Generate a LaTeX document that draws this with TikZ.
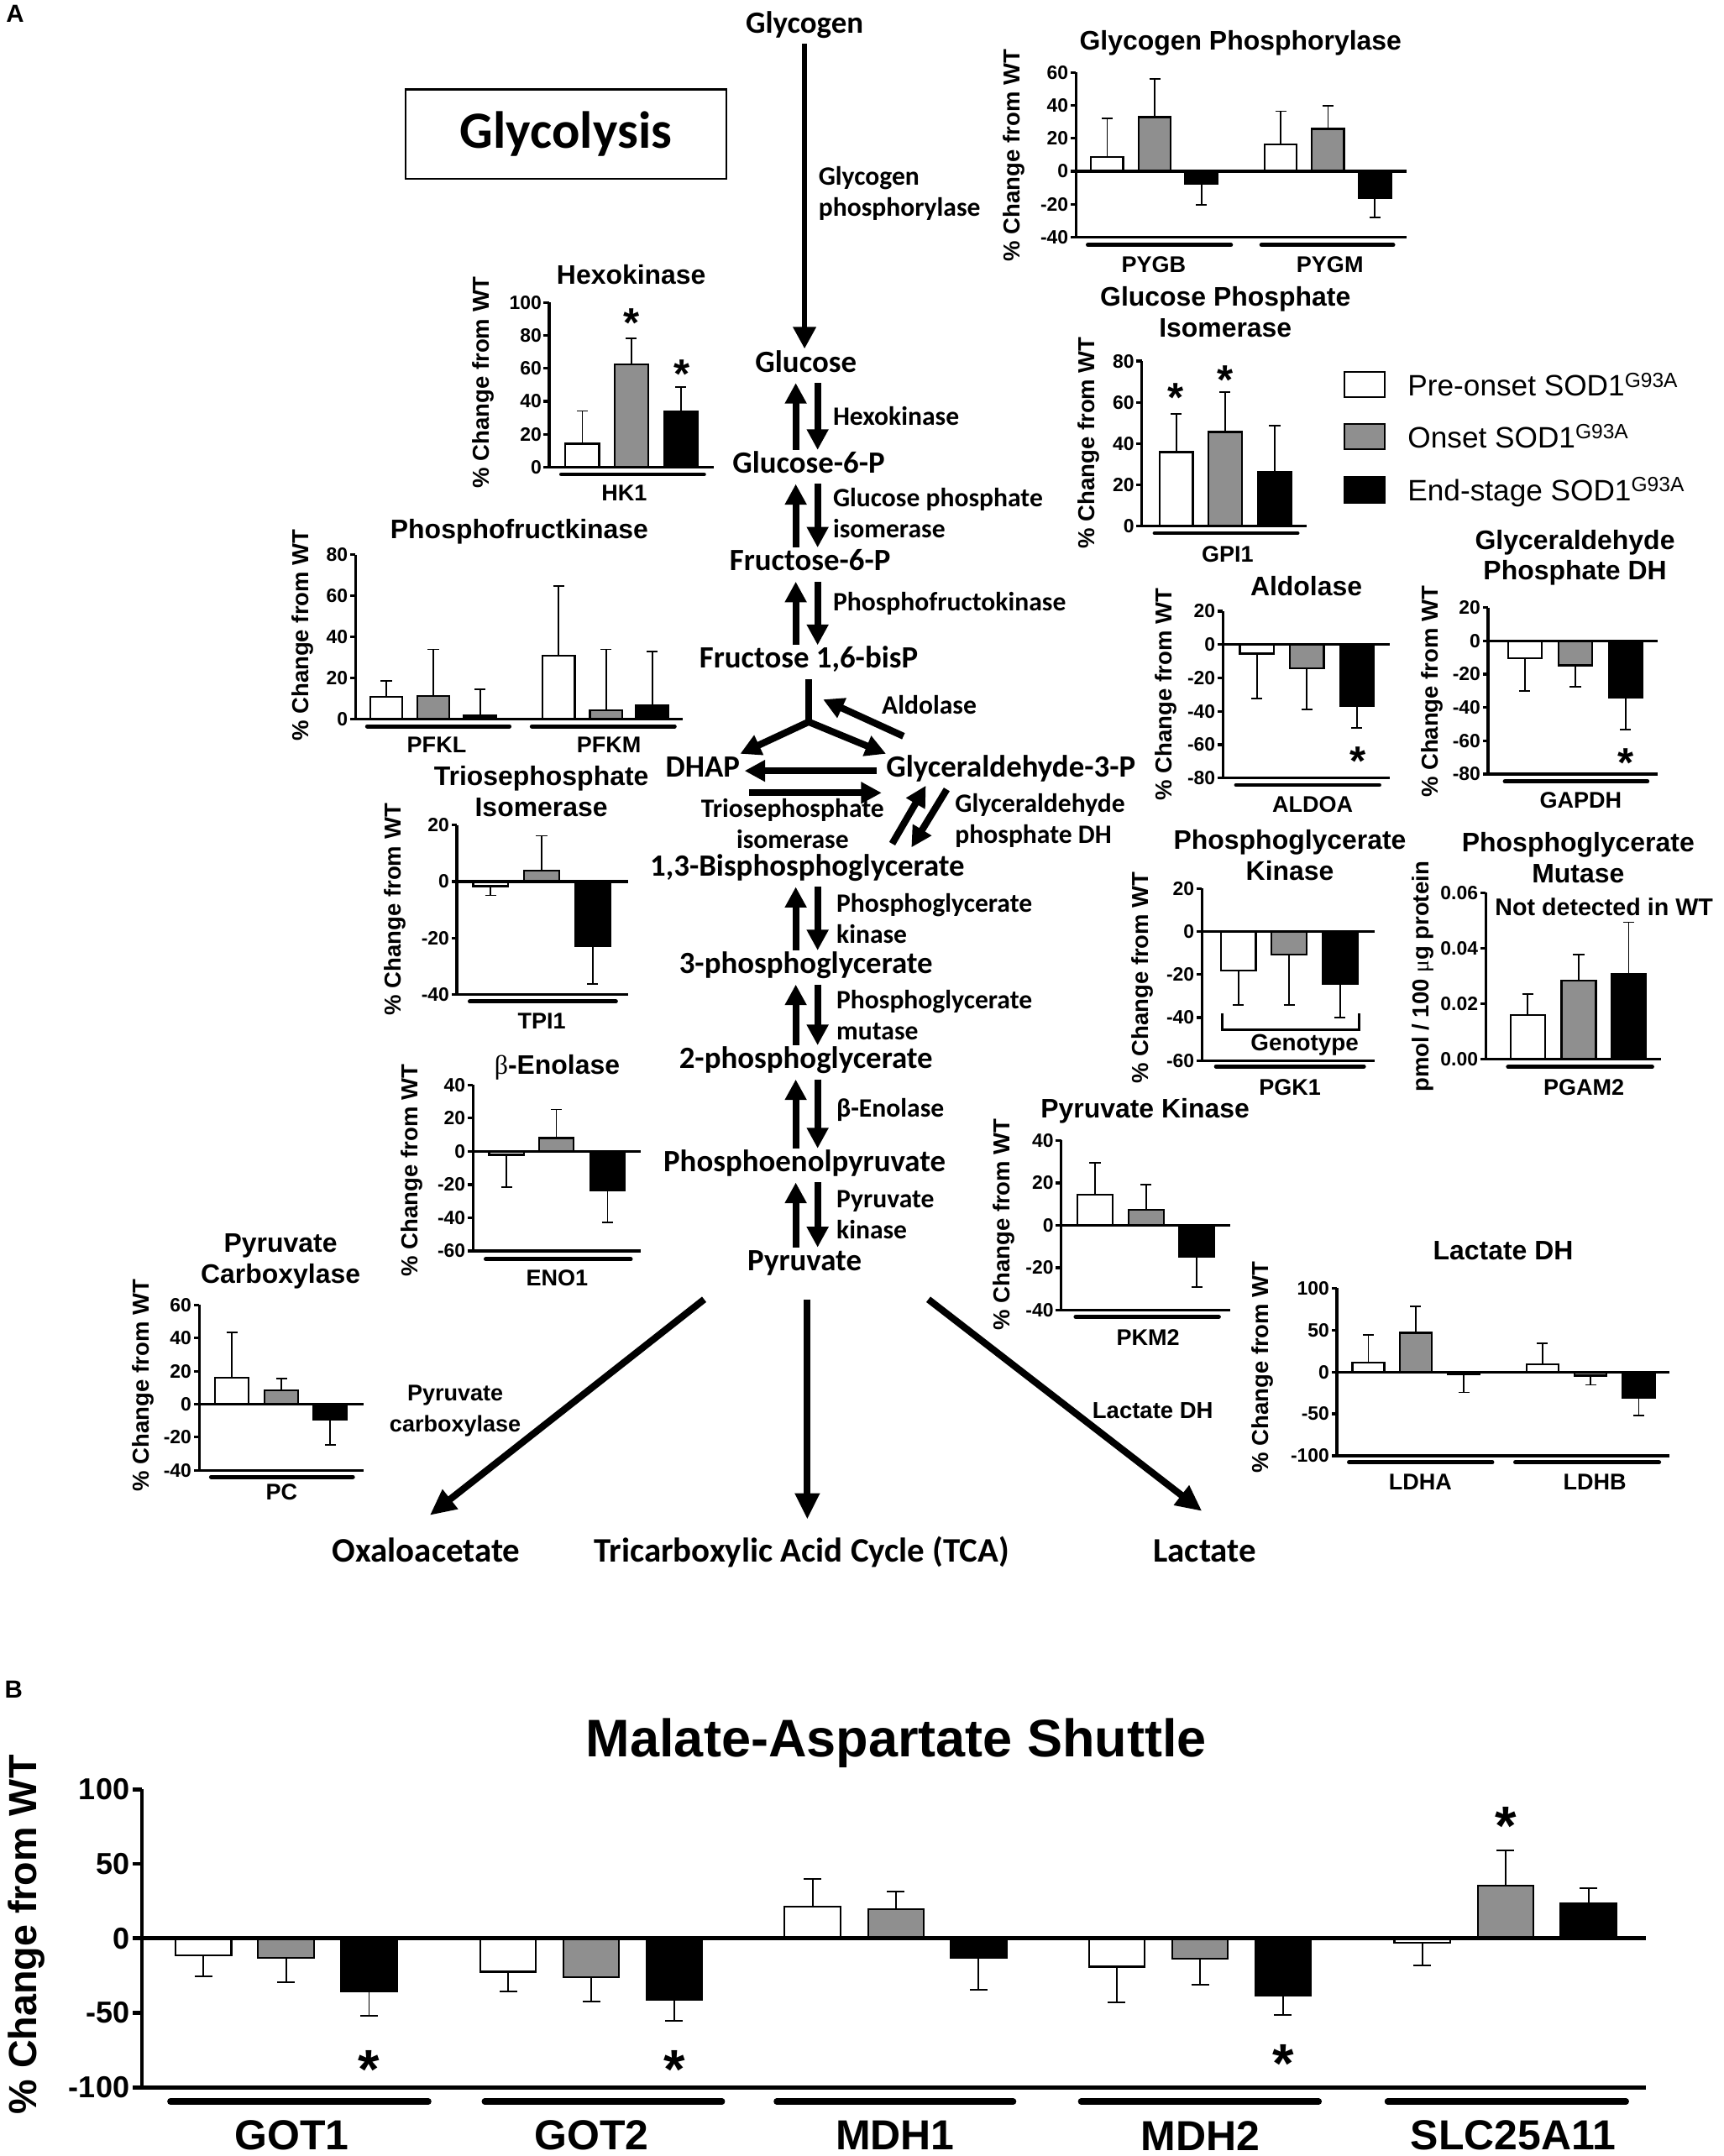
\documentclass[tikz,border=0pt]{standalone}
\usepackage{fontspec}
\setmainfont{Liberation Sans}
\newfontfamily\calfont{Carlito}
\newfontfamily\serfont{Liberation Serif}
\usetikzlibrary{arrows.meta}

\definecolor{bargray}{RGB}{143,143,143}

\newcommand{\barw}{24}
\newcommand{\capw}{4}
\newcommand{\ticklen}{4}
% one bar: left edge, fill, mean, end of error bar
\newcommand{\gbar}[4]{%
  \draw[errline] (#1+\barw/2,#3) -- (#1+\barw/2,#4) +(-\capw,0) -- +(\capw,0);
  \filldraw[barline,fill=#2] (#1,0) rectangle (#1+\barw,#3);
}
% axes: lowest, highest, ticks, end of baseline, prefix for names
\newcommand{\yaxis}[5]{%
  \foreach \tv in {#3}
    \draw[axisline] (0,\tv) -- (-\ticklen,\tv) node[ticklab] (#5\tv) {\tv};
  \draw[axisline] (0,#2) -- (0,#1) -- (#4,#1);
  \draw[axisline] (0,0) -- (#4,0);
}
\newcommand{\sups}[1]{\raisebox{6.5pt}{\fontsize{15}{15}\selectfont #1}}

\begin{document}
\begin{tikzpicture}[x=1pt, y=-1pt,
    axisline/.style={line width=2pt},
    barline/.style={line width=1.4pt},
    errline/.style={line width=1.1pt},
    grpline/.style={line width=3pt, line cap=round},
    ticklab/.style={anchor=east, inner sep=0.6pt, font=\bfseries\fontsize{14}{14}\selectfont},
    ctitle/.style={align=center, inner sep=0pt, font=\bfseries\fontsize{19.5}{22.5}\selectfont},
    ylab/.style={rotate=90, inner sep=0pt, font=\bfseries\fontsize{16.8}{17}\selectfont},
    gene/.style={inner sep=0pt, font=\bfseries\fontsize{16.5}{16.5}\selectfont},
    star/.style={anchor=north, inner sep=0pt, font=\bfseries\fontsize{30}{30}\selectfont},
    legtext/.style={anchor=base west, inner sep=0pt, font=\fontsize{21.5}{21.5}\selectfont},
    met/.style={anchor=base, inner sep=0pt, text height=16.6pt, text depth=7.8pt,
      font=\calfont\bfseries\fontsize{22.5}{24}\selectfont},
    endmet/.style={met, font=\calfont\bfseries\fontsize{25}{26}\selectfont},
    enz/.style={anchor=west, align=left, inner sep=0pt,
      font=\calfont\bfseries\fontsize{19.3}{22.6}\selectfont},
    rxn/.style={line width=5pt, -{Triangle[length=15pt,width=15pt]}},
    rxnboth/.style={line width=5pt, {Triangle[length=15pt,width=15pt]}-{Triangle[length=15pt,width=15pt]}},
    big/.style={line width=5pt, -{Triangle[length=19pt,width=17pt]}},
    panel/.style={inner sep=0pt, font=\bfseries\fontsize{18}{18}\selectfont},
  ]
\fill[white] (0,0) rectangle (1253,1568);
\useasboundingbox (0,0) rectangle (1253,1568);

\node[panel] (pana) at (11,10) {A};
\node[panel] (panb) at (10,1229) {B};
\node[draw, line width=1.5pt, minimum width=233pt, minimum height=65pt,
  font=\calfont\bfseries\fontsize{38}{38}\selectfont] (glyco) at (411.5,97.5) {Glycolysis};

% pathway
\node[met] (glycogen) at (585,24) {Glycogen};
\node[met] (glc) at (586,270.5) {Glucose};
\node[met] (g6p) at (588,344) {Glucose-6-P};
\node[met] (f6p) at (589,415) {Fructose-6-P};
\node[met] (fbp) at (588,486) {Fructose 1,6-bisP};
\node[met] (dhap) at (511,565) {DHAP};
\node[met] (gap) at (735,565) {Glyceraldehyde-3-P};
\node[met] (bpg) at (587,637) {1,3-Bisphosphoglycerate};
\node[met] (pg3) at (586,708) {3-phosphoglycerate};
\node[met] (pg2) at (586,777) {2-phosphoglycerate};
\node[met] (pep) at (585,852) {Phosphoenolpyruvate};
\node[met] (pyr) at (585,924) {Pyruvate};
\node[endmet] (oaa) at (310,1136) {Oxaloacetate};
\node[endmet] (tca) at (583,1136) {Tricarboxylic Acid Cycle (TCA)};
\node[endmet] (lac) at (876,1136) {Lactate};

\node[enz] (enzgp) at (595,140.5) {Glycogen\\phosphorylase};
\node[enz] (enzhk) at (605.5,302.3) {Hexokinase};
\node[enz] (enzgpi) at (605.5,372.8) {Glucose phosphate\\isomerase};
\node[enz] (enzpfk) at (605.5,439.2) {Phosphofructokinase};
\node[enz] (enzald) at (641,512.8) {Aldolase};
\node[enz, anchor=center, align=center] (enztpi) at (576.3,599.3) {Triosephosphate\\isomerase};
\node[enz] (enzgapdh) at (694.3,596.6) {Glyceraldehyde\\phosphate DH};
\node[enz] (enzpgk) at (608,668) {Phosphoglycerate\\kinase};
\node[enz] (enzpgm) at (608,738.5) {Phosphoglycerate\\mutase};
\node[enz] (enzeno) at (608,807) {β-Enolase};
\node[enz] (enzpk) at (608,883.5) {Pyruvate\\kinase};
\node[align=center, inner sep=0pt, font=\bfseries\fontsize{16.5}{23}\selectfont] (enzpc) at (331,1026) {Pyruvate\\carboxylase};
\node[inner sep=0pt, font=\bfseries\fontsize{16.8}{17}\selectfont] (enzldh) at (838.2,1025.9) {Lactate DH};

\coordinate (upx) at (578.6,0);
\coordinate (dnx) at (594.5,0);
\draw[line width=4pt, -{Triangle[length=16pt,width=16pt]}] (glycogen.south) -- (glycogen.south |- glc.north);
\foreach \a/\b in {glc/g6p,g6p/f6p,f6p/fbp,bpg/pg3,pg3/pg2,pg2/pep,pep/pyr}{
  \draw[rxn] (\b.north -| upx) -- (\a.south -| upx);
  \draw[rxn] (\a.south -| dnx) -- (\b.north -| dnx);
}
\coordinate (fork) at (588,525);
\draw[line width=5pt] (fbp.south) -- (fork);
\draw[rxnboth] (dhap.north east) -- (fork) -- (gap.north west);
\coordinate (alda) at (656.9,535.4);
\coordinate (aldb) at (598.5,508.7);
\draw[rxn] (alda) -- (aldb);
\draw[rxn, shorten <=6.7pt, shorten >=3.2pt] (gap.west) -- (dhap.east);
\draw[rxn, shorten <=6.7pt, shorten >=3.2pt] ([yshift=-16pt]dhap.east) -- ([yshift=-16pt]gap.west);
\coordinate (gda) at (648.7,613.6);
\coordinate (gdb) at (673.2,571.4);
\coordinate (gdc) at (688.4,574.1);
\coordinate (gdd) at (662.7,616.3);
\draw[rxn] (gda) -- (gdb);
\draw[rxn] (gdc) -- (gdd);
\coordinate (pyrl) at (512,945);
\coordinate (pyrm) at (587,945);
\coordinate (pyrr) at (675,945);
\coordinate (oaain) at (312.5,1102);
\coordinate (tcain) at (587,1105);
\coordinate (lacin) at (874,1099);
\draw[big] (pyrl) -- (oaain);
\draw[big] (pyrm) -- (tcain);
\draw[big] (pyrr) -- (lacin);

% legend
\filldraw[barline, fill=white] (977.6,270.7) rectangle (1006.9,289);
\filldraw[barline, fill=bargray] (977.6,308.4) rectangle (1006.9,326.7);
\filldraw[barline, fill=black] (977.6,347) rectangle (1006.9,365.4);
\node[legtext] (leg1) at (1023.4,288) {Pre-onset SOD1\sups{G93A}};
\node[legtext] (leg2) at (1023.4,325.7) {Onset SOD1\sups{G93A}};
\node[legtext] (leg3) at (1023.4,364.3) {End-stage SOD1\sups{G93A}};

% glycogen phosphorylase
\node[ctitle] (gpt) at (902,31.5) {Glycogen Phosphorylase};
\node[ylab] (gpy) at (737.3,113) {\% Change from WT};
\begin{scope}[shift={(782.4,124.6)}, y=1.2pt]
  \def\barw{23.4}
  \gbar{10.9}{white}{8.8}{32}
  \gbar{45.5}{bargray}{32.9}{55.8}
  \gbar{79.4}{black}{-7.6}{-20.5}
  \gbar{137.1}{white}{16.4}{36.4}
  \gbar{171.5}{bargray}{25.8}{39.7}
  \gbar{205.6}{black}{-16.1}{-28.1}
  \yaxis{-40}{60}{-40,-20,0,20,40,60}{240.4}{gp}
\end{scope}
\draw[grpline] (791,178.1) -- (895,178.1);
\draw[grpline] (917.2,178.1) -- (1013,178.1);
\node[gene] (pygb) at (838.9,192.3) {PYGB};
\node[gene] (pygm) at (967,192.3) {PYGM};

% hexokinase
\node[ctitle] (hkt) at (459,199.5) {Hexokinase};
\node[ylab] (hky) at (351.1,278) {\% Change from WT};
\begin{scope}[shift={(399.3,339.9)}, y=1.2pt]
  \def\barw{24.6}
  \gbar{11.8}{white}{14.4}{34.2}
  \gbar{47.5}{bargray}{62.4}{78}
  \gbar{83.5}{black}{33.6}{48.8}
  \yaxis{0}{100}{0,20,40,60,80,100}{119.7}{hk}
\end{scope}
\draw[grpline] (408.1,345) -- (511.9,345);
\node[gene] (hk1) at (453.9,358.3) {HK1};
\node[star] (hks1) at (459.4,224.3) {*};
\node[star] (hks2) at (496,261.6) {*};

% glucose phosphate isomerase
\node[ctitle] (gpit) at (891,227) {Glucose Phosphate\\Isomerase};
\node[ylab] (gpiy) at (791.3,322) {\% Change from WT};
\begin{scope}[shift={(830.3,382.7)}, y=1.501pt]
  \def\barw{24.3}
  \gbar{12.8}{white}{35.9}{54.5}
  \gbar{48.3}{bargray}{45.7}{64.9}
  \gbar{84.4}{black}{26.2}{48.8}
  \yaxis{0}{80}{0,20,40,60,80}{119.9}{gpi}
\end{scope}
\draw[grpline] (839.6,387.7) -- (943.4,387.7);
\node[gene] (gpi1) at (892.6,403) {GPI1};
\node[star] (gpis1) at (855,278.9) {*};
\node[star] (gpis2) at (890.8,265.6) {*};

% phosphofructokinase
\node[ctitle] (pfkt) at (377.6,386.8) {Phosphofructkinase};
\node[ylab] (pfky) at (219.8,462) {\% Change from WT};
\begin{scope}[shift={(258.5,523.1)}, y=1.496pt]
  \def\barw{23.5}
  \gbar{10.6}{white}{10.9}{18.8}
  \gbar{44.8}{bargray}{11.4}{34}
  \gbar{78.8}{black}{2}{14.7}
  \gbar{136}{white}{31}{64.8}
  \gbar{170.4}{bargray}{4.5}{34}
  \gbar{204.1}{black}{6.8}{32.9}
  \yaxis{0}{80}{0,20,40,60,80}{238.1}{pfk}
\end{scope}
\draw[grpline] (267,528.2) -- (370.4,528.2);
\draw[grpline] (386.7,528.2) -- (490.5,528.2);
\node[gene] (pfkl) at (317.5,541.5) {PFKL};
\node[gene] (pfkm) at (442.7,541.5) {PFKM};

% aldolase
\node[ctitle] (aldt) at (949.8,426.4) {Aldolase};
\node[ylab] (aldy) at (847.5,505) {\% Change from WT};
\begin{scope}[shift={(889.2,468.8)}, y=1.212pt]
  \def\barw{24.6}
  \gbar{12.3}{white}{-5.4}{-32.2}
  \gbar{48.8}{bargray}{-14.3}{-38.9}
  \gbar{85.1}{black}{-36.9}{-49.8}
  \yaxis{-80}{20}{-80,-60,-40,-20,0,20}{121.4}{ald}
\end{scope}
\draw[grpline] (898.8,570.9) -- (1002.9,570.9);
\node[gene] (aldoa) at (954.4,585.2) {ALDOA};
\node[star] (alds) at (987.5,543.1) {*};

% glyceraldehyde phosphate DH
\node[ctitle] (gapdht) at (1145.2,405.6) {Glyceraldehyde\\Phosphate DH};
\node[ylab] (gapdhy) at (1041.1,503) {\% Change from WT};
\begin{scope}[shift={(1082,466.1)}, y=1.211pt]
  \def\barw{24.5}
  \gbar{14.4}{white}{-10.5}{-30.1}
  \gbar{51.2}{bargray}{-14.7}{-27.6}
  \gbar{87.7}{black}{-34}{-53.2}
  \yaxis{-80}{20}{-80,-60,-40,-20,0,20}{123.4}{gapdh}
\end{scope}
\draw[grpline] (1094.2,568.3) -- (1197.8,568.3);
\node[gene] (gapdhg) at (1149.3,582.1) {GAPDH};
\node[star] (gapdhs) at (1182,544.5) {*};

% triosephosphate isomerase
\node[ctitle] (tpit) at (393.6,575.3) {Triosephosphate\\Isomerase};
\node[ylab] (tpiy) at (287,661.4) {\% Change from WT};
\begin{scope}[shift={(332.2,641.1)}, y=2.055pt]
  \def\barw{25.4}
  \gbar{11.8}{white}{-1.6}{-4.9}
  \gbar{48.9}{bargray}{3.9}{16.2}
  \gbar{86.1}{black}{-22.9}{-36.3}
  \yaxis{-40}{20}{-40,-20,0,20}{124.8}{tpi}
\end{scope}
\draw[grpline] (341.6,728.4) -- (447.8,728.4);
\node[gene] (tpi1) at (393.9,742.4) {TPI1};

% enolase
\node[ctitle] (enot) at (405.1,776.5) {{\serfont\mdseries β}-Enolase};
\node[ylab] (enoy) at (299.2,851.2) {\% Change from WT};
\begin{scope}[shift={(344,837.3)}, y=1.208pt]
  \def\barw{25.3}
  \gbar{11.6}{white}{-2.1}{-21.6}
  \gbar{47.9}{bargray}{8}{25.2}
  \gbar{85.1}{black}{-23.7}{-43}
  \yaxis{-60}{40}{-60,-40,-20,0,20,40}{122.1}{eno}
\end{scope}
\draw[grpline] (353.2,915.8) -- (458.6,915.8);
\node[gene] (eno1) at (405.1,929.7) {ENO1};

% phosphoglycerate kinase
\node[ctitle] (pgkt) at (937.9,621.8) {Phosphoglycerate\\Kinase};
\node[ylab] (pgky) at (830.4,711) {\% Change from WT};
\begin{scope}[shift={(874,677.4)}, y=1.565pt]
  \def\barw{25.6}
  \gbar{13.6}{white}{-18.1}{-34.3}
  \gbar{50.5}{bargray}{-10.7}{-34.3}
  \gbar{87.5}{black}{-24.3}{-39.9}
  \yaxis{-60}{20}{-60,-40,-20,0,20}{125.7}{pgk}
\end{scope}
\draw[axisline] (888.7,736.8) -- (888.7,749) -- (988.2,749) -- (988.2,736.8);
\node[gene, font=\bfseries\fontsize{17}{17}\selectfont] (geno) at (948.6,760.2) {Genotype};
\draw[grpline] (884.2,775.5) -- (991.7,775.5);
\node[gene] (pgk1) at (937.9,790.7) {PGK1};

% phosphoglycerate mutase
\node[ctitle] (pgamt) at (1147.5,623.8) {Phosphoglycerate\\Mutase};
\node[gene, font=\bfseries\fontsize{17.5}{17.5}\selectfont] (notwt) at (1166.3,659.5) {Not detected in WT};
\node[ylab] (pgamy) at (1034.7,710.4) {pmol / 100 {\serfont\mdseries μ}g protein};
\begin{scope}[shift={(1080.3,770.4)}, y=20.18pt]
  \def\barw{25}
  \gbar{18}{white}{1.6}{2.35}
  \gbar{55.1}{bargray}{2.84}{3.78}
  \gbar{91.4}{black}{3.08}{4.94}
  \foreach \tv/\lab in {0/0.00,2/0.02,4/0.04,6/0.06}
    \draw[axisline] (0,\tv) -- (-\ticklen,\tv) node[ticklab] (pgam\tv) {\lab};
  \draw[axisline] (0,6) -- (0,0) -- (127.7,0);
\end{scope}
\draw[grpline] (1096.5,775.9) -- (1201.3,775.9);
\node[gene] (pgam2) at (1151.6,790.7) {PGAM2};

% pyruvate kinase
\node[ctitle] (pkt) at (832.6,808.1) {Pyruvate Kinase};
\node[ylab] (pky) at (730.2,890.5) {\% Change from WT};
\begin{scope}[shift={(771.6,891.1)}, y=1.5425pt]
  \def\barw{25.4}
  \gbar{11.9}{white}{14.5}{29.4}
  \gbar{49.1}{bargray}{7.3}{19.1}
  \gbar{85.9}{black}{-15}{-29}
  \yaxis{-40}{40}{-40,-20,0,20,40}{122.7}{pk}
\end{scope}
\draw[grpline] (782.1,957.7) -- (886.2,957.7);
\node[gene] (pkm2) at (834.7,972.9) {PKM2};

% lactate DH
\node[ctitle] (ldht) at (1093,909.8) {Lactate DH};
\node[ylab] (ldhy) at (917.8,994.3) {\% Change from WT};
\begin{scope}[shift={(972.1,997.8)}, y=0.6095pt]
  \def\barw{23.2}
  \gbar{11.2}{white}{11.4}{44.1}
  \gbar{45.6}{bargray}{46.7}{78.1}
  \gbar{80.6}{black}{-2.7}{-24.4}
  \gbar{137.8}{white}{9}{34.1}
  \gbar{172.8}{bargray}{-4.3}{-15.4}
  \gbar{207.9}{black}{-31.1}{-52.1}
  \yaxis{-100}{100}{-100,-50,0,50,100}{241.9}{ldh}
\end{scope}
\draw[grpline] (980.9,1063.5) -- (1085,1063.5);
\draw[grpline] (1101.8,1063.5) -- (1206.3,1063.5);
\node[gene] (ldha) at (1032.7,1077.8) {LDHA};
\node[gene] (ldhb) at (1159.6,1077.8) {LDHB};

% pyruvate carboxylase
\node[ctitle] (pct) at (204,917.5) {Pyruvate\\Carboxylase};
\node[ylab] (pcy) at (103.9,1007.5) {\% Change from WT};
\begin{scope}[shift={(144.8,1021.2)}, y=1.201pt]
  \def\barw{24.3}
  \gbar{11.7}{white}{15.9}{43.6}
  \gbar{47.7}{bargray}{8.3}{15.6}
  \gbar{83.2}{black}{-9.3}{-24.6}
  \yaxis{-40}{60}{-40,-20,0,20,40,60}{119.4}{pc}
\end{scope}
\draw[grpline] (153.5,1074.1) -- (256.6,1074.1);
\node[gene] (pcg) at (204.8,1084.9) {PC};

% malate-aspartate shuttle
\node[ctitle, font=\bfseries\fontsize{38.5}{40}\selectfont] (mast) at (651.8,1267.7) {Malate-Aspartate Shuttle};
\node[ylab, font=\bfseries\fontsize{28.5}{29}\selectfont] (masy) at (19.5,1407) {\% Change from WT};
\begin{scope}[shift={(103.2,1409.7)}, y=1.084pt,
    axisline/.style={line width=3pt}, barline/.style={line width=1.3pt},
    errline/.style={line width=1.2pt},
    ticklab/.append style={font=\bfseries\fontsize{22}{22}\selectfont}]
  \def\barw{40.5}\def\capw{6.4}\def\ticklen{7}
  \gbar{24.5}{white}{-11.4}{-25.7}
  \gbar{84.5}{bargray}{-12.9}{-29.2}
  \gbar{144.9}{black}{-35.3}{-52}
  \gbar{246.1}{white}{-22.4}{-35.7}
  \gbar{306.5}{bargray}{-26.1}{-42.4}
  \gbar{366.8}{black}{-41.4}{-55.3}
  \gbar{467.3}{white}{21.2}{39.8}
  \gbar{527.9}{bargray}{19.4}{31.6}
  \gbar{588.1}{black}{-12.9}{-34.3}
  \gbar{688.5}{white}{-19}{-42.9}
  \gbar{749.2}{bargray}{-13.5}{-31.2}
  \gbar{809.4}{black}{-38.4}{-51.6}
  \gbar{910.7}{white}{-3.1}{-18}
  \gbar{971.3}{bargray}{35.5}{59.2}
  \gbar{1031.6}{black}{23.5}{33.7}
  \yaxis{-100}{100}{-100,-50,0,50,100}{1093.4}{mas}
\end{scope}
\draw[grpline, line width=4.4pt] (123.8,1528.3) -- (311.5,1528.3);
\draw[grpline, line width=4.4pt] (352.4,1528.3) -- (525,1528.3);
\draw[grpline, line width=4.4pt] (564.7,1528.3) -- (736.8,1528.3);
\draw[grpline, line width=4.4pt] (786,1528.3) -- (958.9,1528.3);
\draw[grpline, line width=4.4pt] (1008.9,1528.3) -- (1182.3,1528.3);
\node[gene, font=\bfseries\fontsize{30.5}{30.5}\selectfont] (got1) at (212.2,1553.1) {GOT1};
\node[gene, font=\bfseries\fontsize{30.5}{30.5}\selectfont] (got2) at (430.3,1553.1) {GOT2};
\node[gene, font=\bfseries\fontsize{30.5}{30.5}\selectfont] (mdh1) at (650.8,1553.1) {MDH1};
\node[gene, font=\bfseries\fontsize{30.5}{30.5}\selectfont] (mdh2) at (872.9,1553.1) {MDH2};
\node[gene, font=\bfseries\fontsize{30.5}{30.5}\selectfont] (slc) at (1100.3,1553.1) {SLC25A11};
\node[star, font=\bfseries\fontsize{40}{40}\selectfont] (mass1) at (268.4,1491.1) {*};
\node[star, font=\bfseries\fontsize{40}{40}\selectfont] (mass2) at (490.3,1491.1) {*};
\node[star, font=\bfseries\fontsize{40}{40}\selectfont] (mass3) at (932.9,1486.7) {*};
\node[star, font=\bfseries\fontsize{40}{40}\selectfont] (mass4) at (1094.8,1314.1) {*};
\end{tikzpicture}
\end{document}
